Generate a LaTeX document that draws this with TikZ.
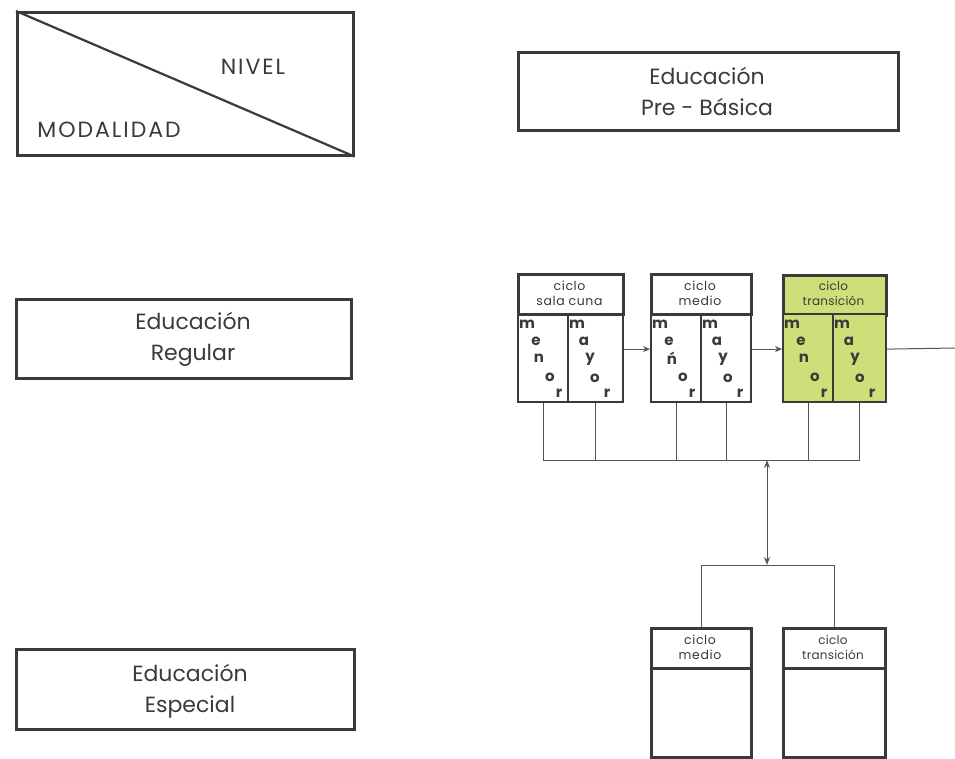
\documentclass[tikz,border=0pt]{standalone}
\usepackage{fontspec}
\setmainfont{Poppins}
\usetikzlibrary{arrows.meta,calc}
\definecolor{ink}{HTML}{3A3A3A}
\definecolor{wire}{HTML}{555555}
\definecolor{lime}{HTML}{CDDF78}
\begin{document}
\begin{tikzpicture}[x=1pt,y=-1pt,
  box/.style={draw=ink, line width=2.6pt, inner sep=0pt, anchor=north west},
  bigtxt/.style={text=ink, font=\fontsize{22}{31}\selectfont, align=center, inner sep=0pt},
  captxt/.style={text=ink, font=\fontsize{22}{24}\selectfont\addfontfeature{LetterSpace=9}, inner sep=0pt},
  colbox/.style={draw=ink, line width=2.2pt, inner sep=0pt, anchor=north west, minimum width=50, minimum height=88},
  hdr/.style={text=ink, font=\fontsize{12.5}{15}\selectfont\addfontfeature{LetterSpace=5}, inner sep=0pt, align=center},
  hdrn/.style={hdr, font=\fontsize{12}{15}\selectfont\addfontfeature{LetterSpace=2}},
  lt/.style={text=ink, font=\fontsize{15}{15}\selectfont\bfseries, inner sep=0pt},
  wireline/.style={draw=wire, line width=1pt},
  arr/.style={wireline, -{Stealth[length=7pt,width=6pt]}}
]
\useasboundingbox (0,0) rectangle (955,758);
\fill[white] (0,0) rectangle (955,758);

% corner box
\node[box, minimum width=336, minimum height=143] (mn) at (16,11) {};
\draw[ink, line width=2.2pt] (mn.north west) -- (mn.south east);
\node[captxt] (niv) at (253,67) {NIVEL};
\node[captxt] (mod) at (109,130) {MODALIDAD};

% row headers
\node[box, minimum width=380, minimum height=78] (pre) at (517,51) {};
\node[bigtxt] (pret) at (707,91) {Educación\\Pre - Básica};
\node[box, minimum width=335, minimum height=79] (reg) at (15,298) {};
\node[bigtxt] (regt) at (193,339) {Educación\\Regular};
\node[box, minimum width=338, minimum height=80] (esp) at (15,648) {};
\node[bigtxt] (espt) at (190,691) {Educación\\Especial};

% cycle boxes (regular)
\node[box, minimum width=105, minimum height=40] (h1) at (517,273) {};
\node[hdr] (h1t) at (569.5,293) {ciclo\\sala\hspace{0.3em}cuna};
\node[colbox] (c1l) at (517,313) {};
\node[colbox, minimum width=55] (c1r) at (567,313) {};

\node[box, minimum width=100, minimum height=40] (h2) at (650,273) {};
\node[hdr] (h2t) at (700,293) {ciclo\\medio};
\node[colbox] (c2l) at (650,313) {};
\node[colbox] (c2r) at (700,313) {};

\node[box, fill=lime, minimum width=103, minimum height=40] (h3) at (782,274) {};
\node[hdrn] (h3t) at (833.5,293) {ciclo\\transición};
\node[colbox, fill=lime] (c3l) at (782,313) {};
\node[colbox, fill=lime, minimum width=53] (c3r) at (832,313) {};

% letters in columns
\foreach \x/\n in {517/n,650/ń,782/n}{
  \node[lt] at (\x+10,324) {m};
  \node[lt] at (\x+19,341) {e};
  \node[lt] at (\x+22,358) {\n};
  \node[lt] at (\x+33,377) {o};
  \node[lt] at (\x+42,393) {r};
}
\foreach \x in {567,700,832}{
  \node[lt] at (\x+10,324) {m};
  \node[lt] at (\x+17,341) {a};
  \node[lt] at (\x+23,359) {y};
  \node[lt] at (\x+28,378) {o};
  \node[lt] at (\x+40,393) {r};
}

% arrows between cycles
\draw[arr] ([yshift=9pt]c1r.east) -- ([yshift=9pt]c2l.west);
\draw[arr] ([yshift=9pt]c2r.east) -- ([yshift=9pt]c3l.west);
\coordinate (out) at (955,348);
\draw[wireline] ([yshift=9pt]c3r.east) -- (out);

% bus below
\coordinate (bus) at (767,460);
\draw[wireline] (c1l.south) -- (c1l.south |- bus) -- (c3r.south |- bus) -- (c3r.south);
\foreach \n in {c1r,c2l,c2r,c3l}{
  \draw[wireline] (\n.south) -- (\n.south |- bus);
}

% lower boxes (especial)
\node[box, minimum width=100, minimum height=40] (e1h) at (650,627) {};
\node[hdr] (e1t) at (700,647) {ciclo\\medio};
\node[box, minimum width=100, minimum height=89] (e1) at (650,667) {};
\node[box, minimum width=102, minimum height=40] (e2h) at (782,627) {};
\node[hdrn] (e2t) at (833,647) {ciclo\\transición};
\node[box, minimum width=102, minimum height=89] (e2) at (782,667) {};

\coordinate (split) at (767,565);
\draw[wireline, {Stealth[length=8pt,width=6pt]}-{Stealth[length=8pt,width=6pt]}] (bus) -- (split);
\draw[wireline] (e1h.north) -- (e1h.north |- split) -- (e2h.north |- split) -- (e2h.north);
\end{tikzpicture}
\end{document}
